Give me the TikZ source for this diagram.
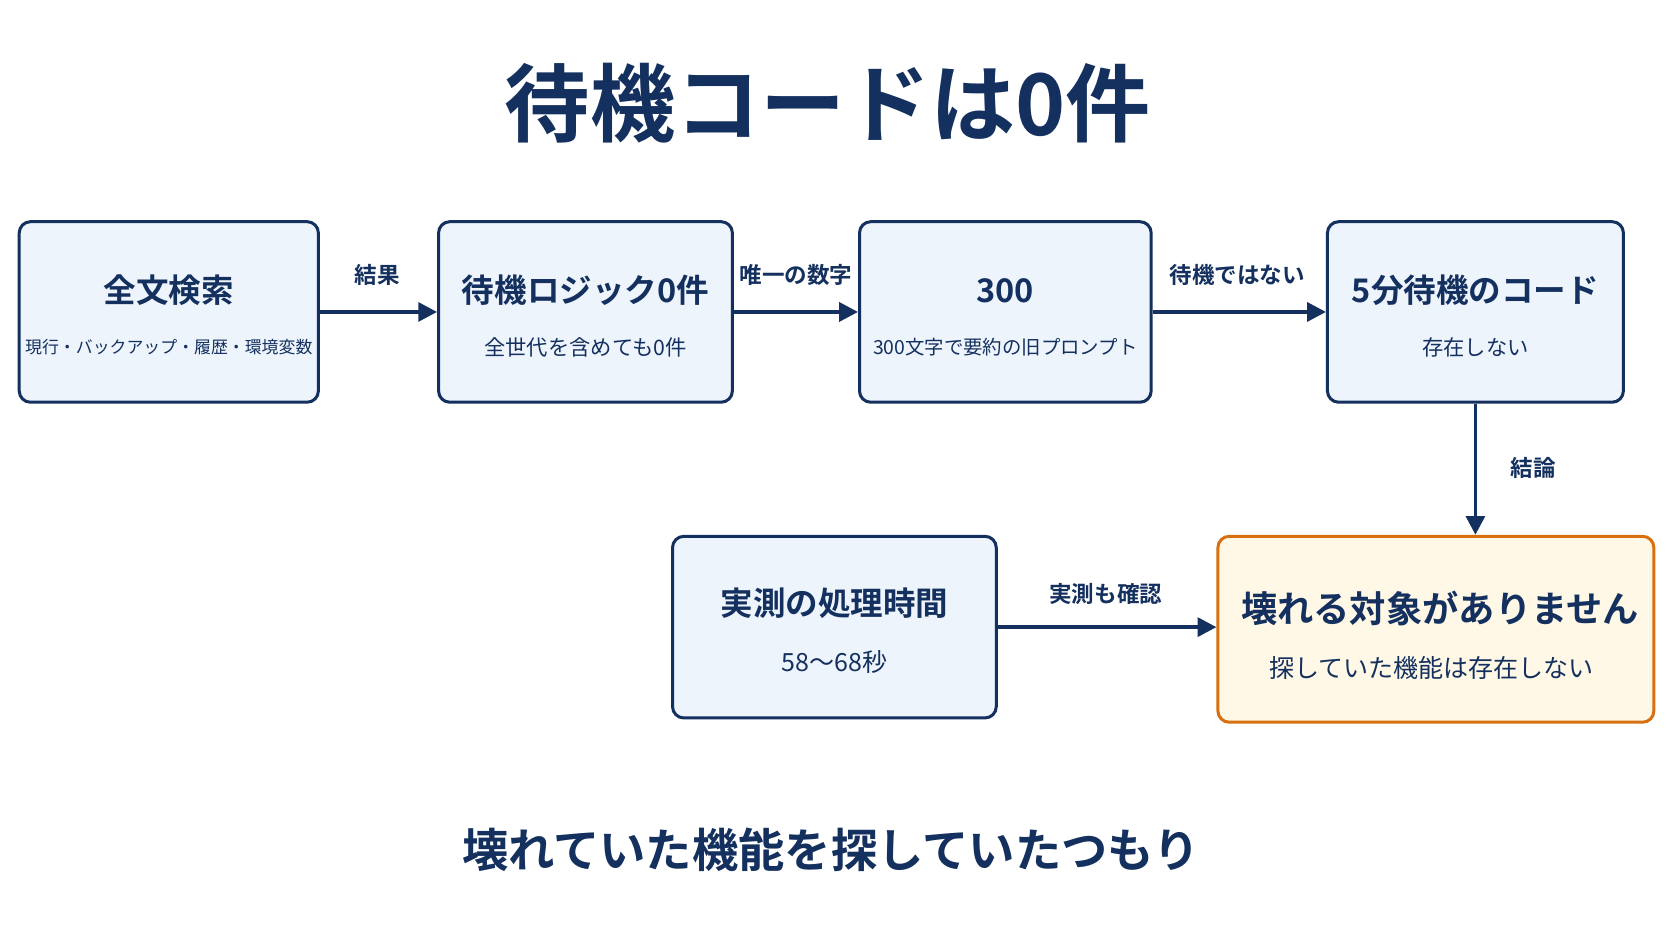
\documentclass[tikz,border=0pt]{standalone}
\usepackage{fontspec}
\setmainfont{Noto Sans CJK JP}[BoldFont={* Bold}]
\usetikzlibrary{arrows.meta}
\definecolor{navy}{HTML}{14305E}
\definecolor{boxfill}{HTML}{EEF4FC}
\definecolor{warnline}{HTML}{D9700F}
\definecolor{warnfill}{HTML}{FFF8E6}
\begin{document}
\begin{tikzpicture}[x=0.03cm,y=-0.03cm,
	card/.style={draw=navy, line width=2.4pt, fill=boxfill, rounded corners=9pt, inner sep=0pt},
	goal/.style={draw=warnline, line width=2.4pt, fill=warnfill, rounded corners=9pt, inner sep=0pt},
	head/.style={text=navy, font=\bfseries\fontsize{26}{28}\selectfont},
	sub/.style={text=navy, font=\fontsize{17}{20}\selectfont},
	lbl/.style={text=navy, font=\bfseries\fontsize{18}{20}\selectfont},
	flow/.style={draw=navy, line width=3pt, -{Triangle[length=15pt,width=15pt]}}]
	
	\useasboundingbox (0,0) rectangle (1565,881);
	\fill[white] (0,0) rectangle (1565,881);
	
	\node[text=navy, font=\bfseries\fontsize{68}{70}\selectfont] (title) at (775,97) {待機コードは0件};
	
	\node[card, minimum width=8.4cm, minimum height=5.07cm] (n1) at (158,292) {};
	\node[card, minimum width=8.25cm, minimum height=5.07cm] (n2) at (548,292) {};
	\node[card, minimum width=8.19cm, minimum height=5.07cm] (n3) at (941,292) {};
	\node[card, minimum width=8.31cm, minimum height=5.07cm] (n4) at (1381,292) {};
	\node[card, minimum width=9.09cm, minimum height=5.1cm] (n6) at (781,587) {};
	\node[goal, minimum width=12.24cm, minimum height=5.22cm] (n5) at (1344,589) {};
	
	\node[head] (t1) at (158,272) {全文検索};
	\node[sub, font=\fontsize{13.5}{16}\selectfont] (s1) at (158,325) {現行・バックアップ・履歴・環境変数};
	\node[head] (t2) at (548,272) {待機ロジック0件};
	\node[sub] (s2) at (548,325) {全世代を含めても0件};
	\node[head] (t3) at (941,272) {300};
	\node[sub, font=\fontsize{15.5}{18}\selectfont] (s3) at (941,325) {300文字で要約の旧プロンプト};
	\node[head] (t4) at (1381,272) {5分待機のコード};
	\node[sub] (s4) at (1381,325) {存在しない};
	\node[head] (t6) at (781,565) {実測の処理時間};
	\node[sub, font=\fontsize{20}{22}\selectfont] (s6) at (781,620) {58〜68秒};
	\node[head, font=\bfseries\fontsize{29}{32}\selectfont] (t5) at (1348,570) {壊れる対象がありません};
	\node[sub, font=\fontsize{20}{22}\selectfont] (s5) at (1340,625) {探していた機能は存在しない};
	
	\draw[flow] (n1) -- (n2);
	\draw[flow] (n2) -- (n3);
	\draw[flow] (n3) -- (n4);
	\draw[flow] (n4.south) -- (n4.south |- n5.north);
	\draw[flow] (n6) -- (n6 -| n5.west);
	
	\node[lbl] (l1) at (353,257) {結果};
	\node[lbl] (l2) at (745,257) {唯一の数字};
	\node[lbl] (l3) at (1158,257) {待機ではない};
	\node[lbl] (l4) at (1435,438) {結論};
	\node[lbl] (l5) at (1035,556) {実測も確認};
	
	\node[text=navy, font=\bfseries\fontsize{37}{40}\selectfont] (note) at (778,795) {壊れていた機能を探していたつもり};
\end{tikzpicture}
\end{document}
